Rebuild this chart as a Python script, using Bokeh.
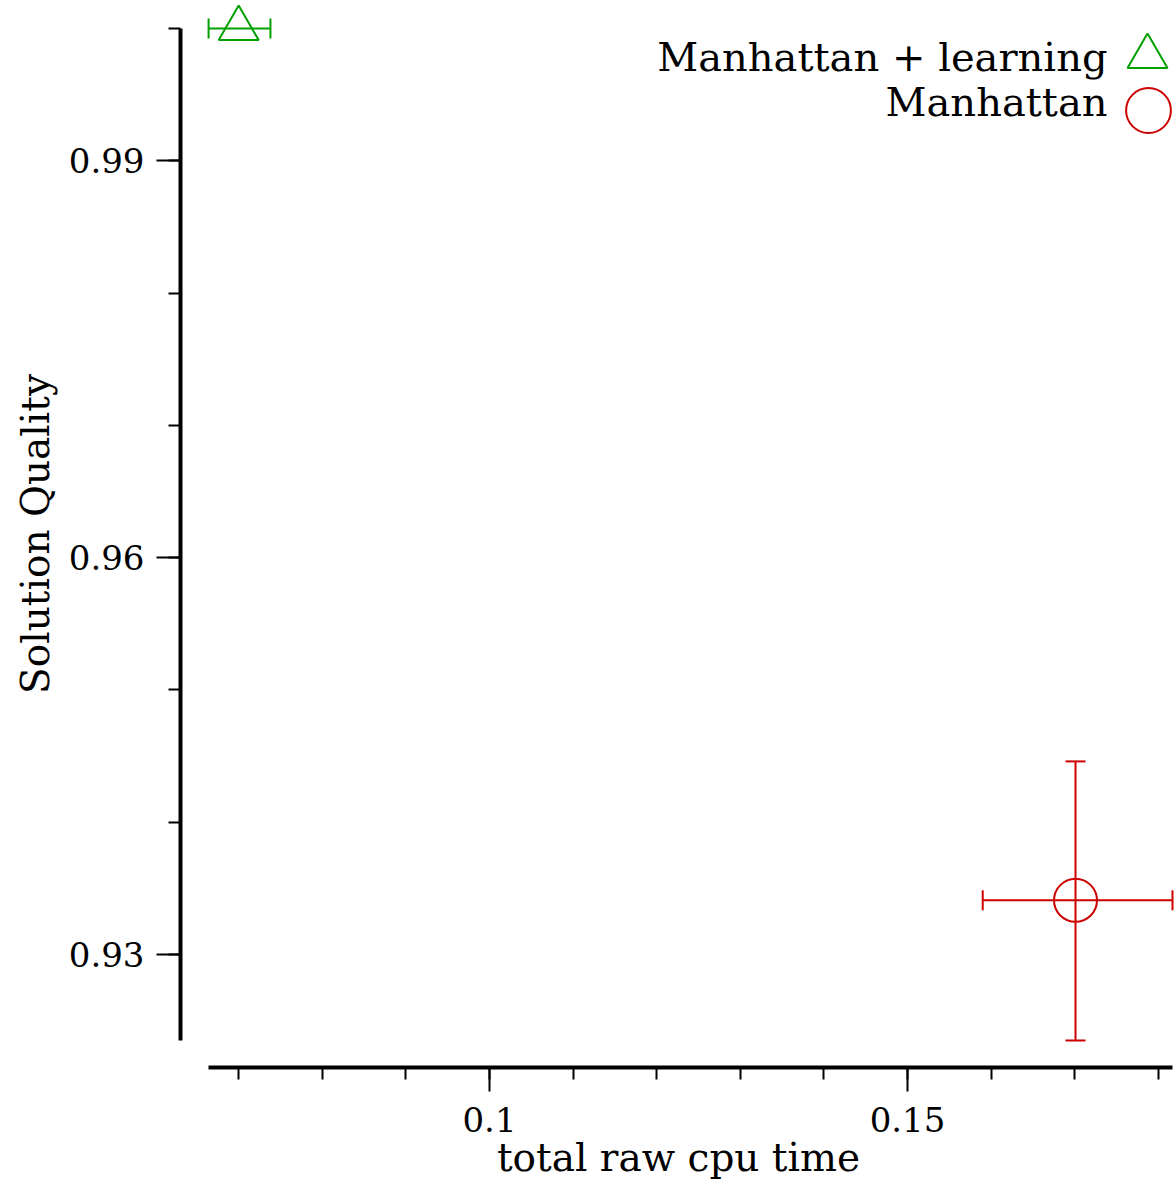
from bokeh.plotting import figure
from bokeh.models import (ColumnDataSource, Whisker, TeeHead, Range1d, FixedTicker,
                          Legend, LegendItem, Label)
from bokeh.embed import file_html
from bokeh.resources import INLINE

# ---- data ----
series = ["Manhattan + learning", "Manhattan"]
colors = ["#00a000", "#cc0000"]
markers = ["triangle", "circle"]
cpu_time = [0.0700, 0.1701]
cpu_lower = [0.0664, 0.1590]
cpu_upper = [0.0738, 0.1817]
quality = [1.0000, 0.9341]
quality_lower = [1.0000, 0.9235]
quality_upper = [1.0000, 0.9446]

x_major = [0.1, 0.15]
x_major_labels = ["0.1", "0.15"]
x_minor = [0.07, 0.08, 0.09, 0.10, 0.11, 0.12, 0.13, 0.14, 0.15, 0.16, 0.17, 0.18]
y_major = [0.93, 0.96, 0.99]
y_major_labels = ["0.93", "0.96", "0.99"]
y_minor = [0.93, 0.94, 0.95, 0.96, 0.97, 0.98, 0.99, 1.0]

FONT = "DejaVu Serif"

p = figure(width=1176, height=1185, output_backend="svg", toolbar_location=None,
           x_range=Range1d(0.06304, 0.18218), y_range=Range1d(0.92146, 1.00212),
           min_border_left=180, min_border_right=0, min_border_top=0, min_border_bottom=118,
           x_axis_label="total raw cpu time", y_axis_label="Solution Quality")
p.grid.visible = False
p.outline_line_color = None
p.background_fill_color = "white"
p.border_fill_color = "white"

xa = p.xaxis[0]
ya = p.yaxis[0]
xa.ticker = FixedTicker(ticks=x_major, minor_ticks=x_minor)
ya.ticker = FixedTicker(ticks=y_major, minor_ticks=y_minor)
xa.major_label_overrides = dict(zip(x_major, x_major_labels))
ya.major_label_overrides = dict(zip(y_major, y_major_labels))
xa.bounds = (min(cpu_lower), max(cpu_upper))
ya.bounds = (min(quality_lower), max(quality_upper))

for ax in (xa, ya):
    ax.axis_line_width = 4
    ax.axis_line_color = "black"
    ax.major_tick_line_width = 2
    ax.minor_tick_line_width = 2
    ax.major_tick_out = 24
    ax.major_tick_in = 0
    ax.minor_tick_out = 12
    ax.minor_tick_in = 0
    ax.major_label_text_font = FONT
    ax.major_label_text_font_size = "34px"
    ax.major_label_text_color = "black"
    ax.axis_label_text_font = FONT
    ax.axis_label_text_font_size = "39px"
    ax.axis_label_text_font_style = "normal"
    ax.axis_label_text_color = "black"
xa.major_label_standoff = 15
ya.major_label_standoff = 12
xa.axis_label_standoff = 0
ya.axis_label_standoff = 8

legend_renderers = []
for i in range(len(series)):
    src = ColumnDataSource(dict(x=[cpu_time[i]], y=[quality[i]],
                                xl=[cpu_lower[i]], xu=[cpu_upper[i]],
                                yl=[quality_lower[i]], yu=[quality_upper[i]]))
    c = colors[i]
    p.add_layout(Whisker(source=src, base="y", lower="xl", upper="xu", dimension="width",
                         line_color=c, line_width=2,
                         lower_head=TeeHead(size=20, line_color=c, line_width=2),
                         upper_head=TeeHead(size=20, line_color=c, line_width=2)))
    if quality_upper[i] > quality_lower[i]:
        p.add_layout(Whisker(source=src, base="x", lower="yl", upper="yu", dimension="height",
                             line_color=c, line_width=2,
                             lower_head=TeeHead(size=20, line_color=c, line_width=2),
                             upper_head=TeeHead(size=20, line_color=c, line_width=2)))
    r = p.scatter("x", "y", source=src, marker=markers[i], size=40 if i == 0 else 43,
                  fill_color=None, line_color=c, line_width=2)
    legend_renderers.append(r)

# legend: text right-aligned, marker on the right
frame_left, frame_bottom = 180, 1067
leg_glyph = [100, 112]
leg_center = [(1147, 56), (1148, 110)]
text_baseline_y = [56, 101]
for i in range(len(series)):
    g = leg_glyph[i]
    cx, cy = leg_center[i]
    lg = Legend(items=[LegendItem(label=" ", renderers=[legend_renderers[i]])],
                location=(cx - g / 2 - frame_left, frame_bottom - (cy + g / 2)),
                glyph_width=g, glyph_height=g, label_width=0, label_standoff=0,
                label_height=0, padding=0, margin=0, spacing=0,
                border_line_color=None, background_fill_alpha=0,
                label_text_font_size="1px")
    p.add_layout(lg, "center")
    p.add_layout(Label(x=1107 - frame_left, y=frame_bottom - text_baseline_y[i],
                       x_units="screen", y_units="screen", text=series[i],
                       text_align="right", text_baseline="alphabetic",
                       text_font=FONT, text_font_size="40px", text_color="black"))

open("out.html", "w").write(file_html(p, INLINE))
